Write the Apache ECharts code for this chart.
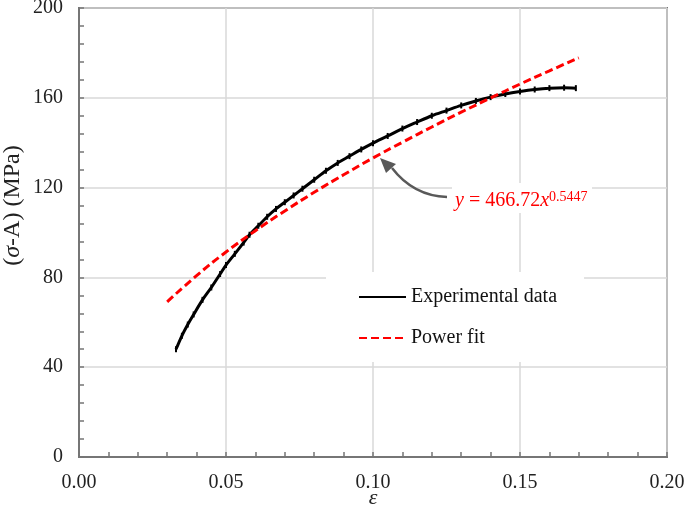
<!DOCTYPE html>
<html>
<head>
<meta charset="utf-8">
<script src="https://cdn.jsdelivr.net/npm/echarts@6/dist/echarts.min.js"></script>
<style>html,body{margin:0;padding:0;background:#fff}#c{width:685px;height:511px}</style>
</head>
<body>
<div id="c"></div>
<script>
const expStrain = [0.033,0.035,0.037,0.039,0.042,0.045,0.048,0.050,0.053,0.056,0.058,0.061,0.064,0.067,0.070,0.073,0.076,0.080,0.084,0.088,0.092,0.096,0.100,0.105,0.110,0.115,0.120,0.125,0.130,0.135,0.140,0.145,0.150,0.155,0.160,0.165,0.169];
const expStress = [48,54,59,63.5,70,75.5,81.5,85.5,90.5,95.5,99,103,107,110.5,113.5,116.5,119.5,123.5,127.5,131,134,137,139.8,143,146.3,149.2,152,154.3,156.6,158.6,160.3,161.7,162.8,163.7,164.3,164.5,164.3];
// Power fit curve
const fitStrain = [0.03,0.04,0.05,0.06,0.07,0.08,0.09,0.10,0.11,0.12,0.13,0.14,0.15,0.16,0.17];
const fitStress = [69.1,80.8,91.3,100.8,109.6,117.9,125.7,133.2,140.2,147.0,153.6,159.9,166.1,172.0,177.8];
const seriesNames = ['Experimental data','Power fit'];
const xTicks = {min:0, max:0.2, interval:0.05};
const yTicks = {min:0, max:200, interval:40};

const FONT = 'Liberation Serif';
const chart = echarts.init(document.getElementById('c'), null, {renderer:'canvas'});
const axisGray = '#767676';
const gridGray = '#d9d9d9';
chart.setOption({
  animation:false,
  backgroundColor:'#fff',
  grid:{left:79,top:8,right:18,bottom:54,containLabel:false,outerBoundsMode:'none',
        show:true,borderColor:axisGray,borderWidth:2,backgroundColor:'transparent'},
  xAxis:{
    type:'value', min:xTicks.min, max:xTicks.max, interval:xTicks.interval,
    name:'ε', nameLocation:'middle', nameGap:30, nameMoveOverlap:false,
    nameTextStyle:{fontFamily:FONT,fontSize:22,fontStyle:'italic',color:'#222'},
    axisLine:{show:true,lineStyle:{color:axisGray,width:2}},
    axisTick:{show:true,inside:true,length:5,lineStyle:{color:axisGray,width:1.5}},
    minorTick:{show:true,splitNumber:5,length:5,lineStyle:{color:axisGray,width:1.5}},
    splitLine:{show:true,lineStyle:{color:gridGray,width:1.5}},
    axisLabel:{fontFamily:FONT,fontSize:20,color:'#222',margin:16,formatter:v=>v.toFixed(2)}
  },
  yAxis:{
    type:'value', min:yTicks.min, max:yTicks.max, interval:yTicks.interval,
    name:'({i|σ}-A) (MPa)', nameLocation:'middle', nameGap:54, nameRotate:90, nameMoveOverlap:false,
    nameTextStyle:{fontFamily:FONT,fontSize:24,color:'#222',padding:[0,0,0,54],
      rich:{i:{fontFamily:FONT,fontSize:24,fontStyle:'italic',color:'#222'}}},
    axisLine:{show:true,lineStyle:{color:axisGray,width:2}},
    axisTick:{show:true,inside:true,length:5,lineStyle:{color:axisGray,width:1.5}},
    minorTick:{show:true,splitNumber:5,length:5,lineStyle:{color:axisGray,width:1.5}},
    splitLine:{show:true,lineStyle:{color:gridGray,width:1.5}},
    axisLabel:{fontFamily:FONT,fontSize:20,color:'#222',margin:16}
  },
  legend:{
    orient:'vertical', left:326, top:272,
    padding:[15,27,14,32], itemGap:21, itemWidth:47, itemHeight:14,
    backgroundColor:'#fff',
    data:seriesNames,
    itemStyle:{opacity:0},
    textStyle:{fontFamily:FONT,fontSize:20,color:'#111',lineHeight:20}
  },
  series:[
    {name:seriesNames[0], type:'line', smooth:0.3,
     data:expStrain.map((x,i)=>[x,expStress[i]]),
     symbol:'rect', symbolSize:[2,6], showSymbol:true,
     itemStyle:{color:'#000'}, lineStyle:{color:'#000',width:3}, z:3},
    {name:seriesNames[1], type:'line', smooth:true,
     data:fitStrain.map((x,i)=>[x,fitStress[i]]),
     symbol:'none', showSymbol:false,
     itemStyle:{color:'#ff0000'}, lineStyle:{color:'#ff0000',width:3,type:[8,4]}, z:4}
  ],
  graphic:[
    {type:'rect', shape:{x:452,y:183,width:140,height:30}, style:{fill:'#fff'}, z:10},
    {type:'text', x:455, y:190, z:11,
     style:{text:'{i|y} = 466.72{i|x}{s|0.5447}', fill:'#ff0000', font:'20px "Liberation Serif"',
       rich:{i:{fontStyle:'italic',fontFamily:FONT,fontSize:20,fill:'#ff0000',lineHeight:22},
             s:{fontFamily:FONT,fontSize:14,fill:'#ff0000',verticalAlign:'top',lineHeight:14}},
       lineHeight:22}},
    {type:'bezierCurve', z:11,
     shape:{x1:447,y1:197,cpx1:418,cpy1:196,cpx2:402,cpy2:181,x2:392,y2:168},
     style:{stroke:'#595959',lineWidth:2.5,fill:null}},
    {type:'polygon', z:11,
     shape:{points:[[380,158],[396,164],[386,173]]},
     style:{fill:'#595959'}}
  ]
});
</script>
</body>
</html>
